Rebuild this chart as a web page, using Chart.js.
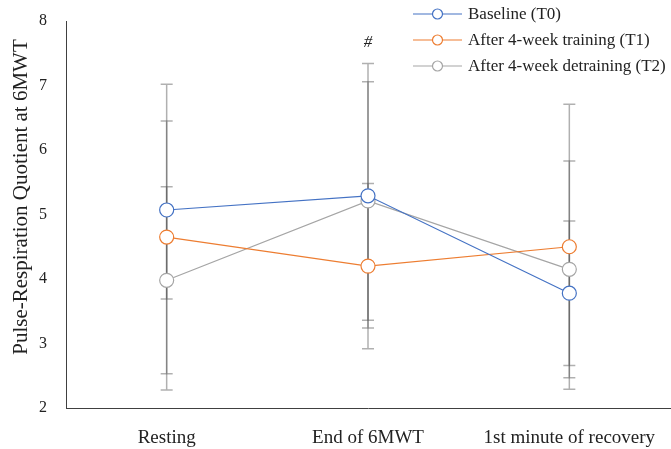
<!DOCTYPE html>
<html>
<head>
<meta charset="utf-8">
<script src="https://cdn.jsdelivr.net/npm/chart.js@4"></script>
<style>
  html, body { margin: 0; padding: 0; background: #fff; }
  #wrap { width: 671px; height: 449px; }
</style>
</head>
<body>
<div id="wrap"><canvas id="chart"></canvas></div>
<script>
// Data
const categories = ['Resting', 'End of 6MWT', '1st minute of recovery'];
const seriesNames = ['Baseline (T0)', 'After 4-week training (T1)', 'After 4-week detraining (T2)'];
const baselineMean = [5.07, 5.29, 3.78];
const baselineSd = [1.38, 2.05, 1.12];
const trainingMean = [4.65, 4.20, 4.50];
const trainingSd = [2.37, 1.28, 2.21];
const detrainingMean = [3.98, 5.21, 4.15];
const detrainingSd = [1.45, 1.85, 1.68];
const yTicks = [2, 3, 4, 5, 6, 7, 8];
const yTitle = 'Pulse-Respiration Quotient at 6MWT';
const markLabel = '#';
const markCategory = 1;
const markValue = 7.67;

const colors = ['#4472C4', '#ED7D31', '#A5A5A5'];
const FONT = '"Liberation Serif", "DejaVu Serif", serif';
const sds = [baselineSd, trainingSd, detrainingSd];

// Error bars drawn under the lines, from the scales
const errorBars = {
  id: 'errorBars',
  beforeDatasetsDraw(chart) {
    const { ctx } = chart;
    const y = chart.scales.y;
    ctx.save();
    ctx.strokeStyle = 'rgba(80,80,80,0.45)';
    ctx.lineWidth = 1.5;
    chart.data.datasets.forEach((ds, i) => {
      const meta = chart.getDatasetMeta(i);
      meta.data.forEach((pt, j) => {
        const hi = y.getPixelForValue(ds.data[j] + sds[i][j]);
        const lo = y.getPixelForValue(ds.data[j] - sds[i][j]);
        ctx.beginPath();
        ctx.moveTo(pt.x, hi); ctx.lineTo(pt.x, lo);
        ctx.moveTo(pt.x - 6, hi); ctx.lineTo(pt.x + 6, hi);
        ctx.moveTo(pt.x - 6, lo); ctx.lineTo(pt.x + 6, lo);
        ctx.stroke();
      });
    });
    ctx.restore();
  }
};

// Legend in the top right, the "#" mark and the y title
const extras = {
  id: 'extras',
  afterDraw(chart) {
    const { ctx } = chart;
    ctx.save();
    chart.data.datasets.forEach((ds, i) => {
      const ly = 14 + i * 26;
      ctx.strokeStyle = ds.borderColor;
      ctx.lineWidth = 1.2;
      ctx.beginPath();
      ctx.moveTo(413, ly); ctx.lineTo(462, ly);
      ctx.stroke();
      ctx.beginPath();
      ctx.arc(437.5, ly, 5, 0, Math.PI * 2);
      ctx.fillStyle = '#fff';
      ctx.fill();
      ctx.stroke();
      ctx.fillStyle = '#222';
      ctx.font = '17px ' + FONT;
      ctx.textBaseline = 'middle';
      ctx.textAlign = 'left';
      ctx.fillText(ds.label, 468, ly + 1);
    });
    const mx = chart.scales.x.getPixelForValue(markCategory);
    const my = chart.scales.y.getPixelForValue(markValue);
    ctx.font = 'italic 17px ' + FONT;
    ctx.fillStyle = '#222';
    ctx.textAlign = 'center';
    ctx.fillText(markLabel, mx, my);

    ctx.translate(21, 197);
    ctx.rotate(-Math.PI / 2);
    ctx.font = '21px ' + FONT;
    ctx.textAlign = 'center';
    ctx.textBaseline = 'middle';
    ctx.fillText(yTitle, 0, 0);
    ctx.restore();
  }
};

const mkSet = (label, data, color) => ({
  label, data,
  borderColor: color,
  backgroundColor: '#fff',
  borderWidth: 1.2,
  pointRadius: 7,
  pointBorderWidth: 1.2,
  pointBackgroundColor: '#fff',
  pointBorderColor: color,
  tension: 0
});

new Chart(document.getElementById('chart'), {
  type: 'line',
  data: {
    labels: categories,
    datasets: [
      mkSet(seriesNames[0], baselineMean, colors[0]),
      mkSet(seriesNames[1], trainingMean, colors[1]),
      mkSet(seriesNames[2], detrainingMean, colors[2])
    ]
  },
  options: {
    responsive: true,
    maintainAspectRatio: false,
    animation: false,
    layout: { autoPadding: false, padding: { top: 21, right: 1, left: 0, bottom: 0 } },
    plugins: {
      legend: { display: false },
      tooltip: { enabled: false }
    },
    scales: {
      x: {
        offset: true,
        grid: { display: false, drawTicks: false },
        border: { display: true, color: '#404040', width: 1 },
        ticks: { color: '#222', padding: 19, font: { family: FONT, size: 19 } },
        afterFit: (s) => { s.height = 41; s.paddingLeft = 0; s.paddingRight = 0; }
      },
      y: {
        min: 2,
        max: 8,
        afterBuildTicks: (s) => { s.ticks = yTicks.map(v => ({ value: v })); },
        grid: { display: false, drawTicks: false },
        border: { display: true, color: '#404040', width: 1 },
        ticks: { color: '#222', padding: 19, font: { family: FONT, size: 16 } },
        afterFit: (s) => { s.width = 66; s.paddingTop = 0; s.paddingBottom = 0; }
      }
    }
  },
  plugins: [errorBars, extras]
});
</script>
</body>
</html>
